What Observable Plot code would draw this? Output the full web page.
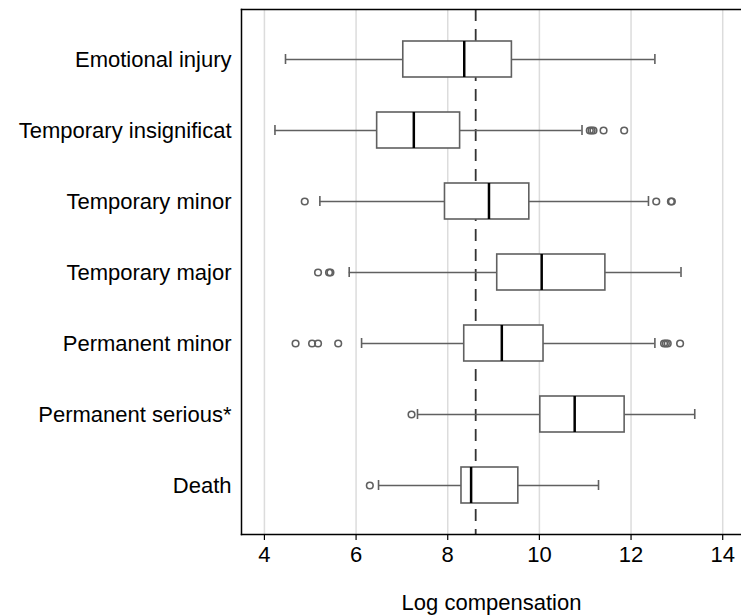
<!DOCTYPE html>
<html>
<head>
<meta charset="utf-8">
<script src="https://cdn.jsdelivr.net/npm/d3@7"></script>
<script src="https://cdn.jsdelivr.net/npm/@observablehq/plot@0.6"></script>
<style>
  body { margin: 0; background: #fff; }
</style>
</head>
<body>
<div id="chart"></div>
<script>
const categories = ["Emotional injury", "Temporary insignificat", "Temporary minor", "Temporary major", "Permanent minor", "Permanent serious*", "Death"];
const lowWhisker = [4.46, 4.23, 5.21, 5.85, 6.12, 7.34, 6.49];
const q1 = [7.03, 6.46, 7.94, 9.08, 8.36, 10.02, 8.30];
const median = [8.36, 7.26, 8.90, 10.05, 9.18, 10.77, 8.51];
const q3 = [9.40, 8.27, 9.78, 11.44, 10.09, 11.86, 9.54];
const highWhisker = [12.52, 10.93, 12.38, 13.09, 12.52, 13.39, 11.29];
const outlierCategory = [
  "Temporary insignificat", "Temporary insignificat", "Temporary insignificat", "Temporary insignificat", "Temporary insignificat",
  "Temporary minor", "Temporary minor", "Temporary minor", "Temporary minor",
  "Temporary major", "Temporary major", "Temporary major",
  "Permanent minor", "Permanent minor", "Permanent minor", "Permanent minor", "Permanent minor", "Permanent minor", "Permanent minor", "Permanent minor",
  "Permanent serious*",
  "Death"
];
const outlierValue = [
  11.10, 11.14, 11.18, 11.40, 11.85,
  4.88, 12.55, 12.87, 12.89,
  5.17, 5.41, 5.44,
  4.68, 5.04, 5.17, 5.61, 12.72, 12.76, 12.80, 13.07,
  7.21,
  6.30
];
const overallMedian = [8.61];
const xTicks = [4, 6, 8, 10, 12, 14];
const xDomain = [3.5, 14.41];

const boxes = categories.map((c, i) => ({
  category: c, lo: lowWhisker[i], q1: q1[i], med: median[i], q3: q3[i], hi: highWhisker[i]
}));
const outliers = outlierValue.map((v, i) => ({category: outlierCategory[i], value: v}));

const gray = "#606060";

const chart = Plot.plot({
  width: 741,
  height: 615,
  marginLeft: 241,
  marginRight: 0,
  marginTop: 9,
  marginBottom: 81,
  style: {fontFamily: "'Liberation Sans', Arial, sans-serif", fontSize: "22px", color: "#000", background: "#fff"},
  x: {domain: xDomain, ticks: xTicks, label: "Log compensation"},
  y: {domain: categories, paddingInner: 0.495, paddingOuter: 0.428, label: null},
  marks: [
    Plot.gridX(xTicks, {stroke: "#dcdcdc", strokeOpacity: 1, strokeWidth: 1.5}),
    Plot.ruleX(overallMedian, {stroke: "#333", strokeWidth: 1.8, strokeDasharray: "12,8"}),
    Plot.ruleY(boxes, {y: "category", x1: "lo", x2: "hi", stroke: gray, strokeWidth: 1.6}),
    Plot.tickX(boxes, {y: "category", x: "lo", stroke: gray, strokeWidth: 1.6, insetTop: 13, insetBottom: 13}),
    Plot.tickX(boxes, {y: "category", x: "hi", stroke: gray, strokeWidth: 1.6, insetTop: 13, insetBottom: 13}),
    Plot.barX(boxes, {y: "category", x1: "q1", x2: "q3", fill: "#fff", stroke: gray, strokeWidth: 1.6}),
    Plot.tickX(boxes, {y: "category", x: "med", stroke: "#000", strokeWidth: 2.5}),
    Plot.dot(outliers, {y: "category", x: "value", r: 3.3, stroke: gray, strokeWidth: 1.6, fill: "none"}),
    Plot.axisY({tickSize: 0, tickPadding: 10, fontSize: 22, label: null}),
    Plot.axisX({ticks: xTicks, tickSize: 6, tickPadding: 6, fontSize: 22, stroke: "#000", strokeWidth: 1.2,
      label: "Log compensation", labelAnchor: "center", labelOffset: 75, labelArrow: "none"}),
    Plot.frame({anchor: "top", stroke: "#000", strokeWidth: 1.5}),
    Plot.frame({anchor: "left", stroke: "#000", strokeWidth: 1.5}),
    Plot.frame({anchor: "bottom", stroke: "#000", strokeWidth: 1.5})
  ]
});
document.getElementById("chart").appendChild(chart);
</script>
</body>
</html>
